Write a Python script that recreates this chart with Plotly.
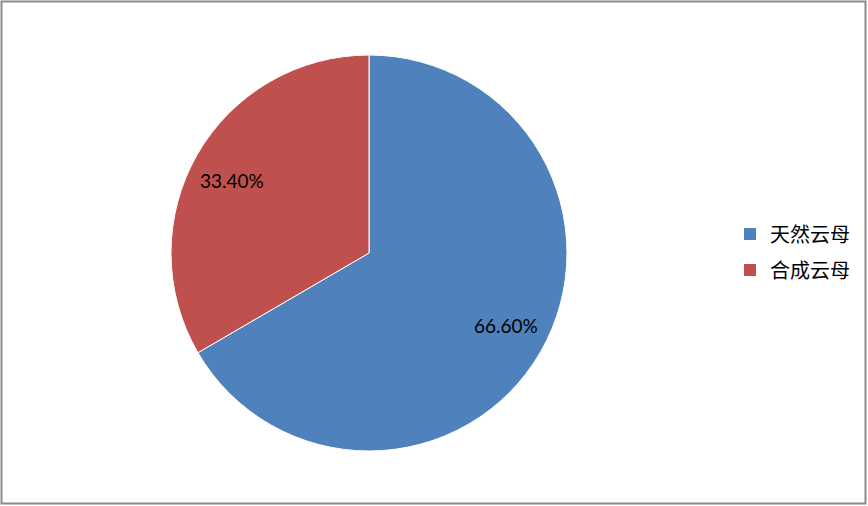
import math
import plotly.graph_objects as go

labels = ["天然云母", "合成云母"]
values = [66.6, 33.4]
text_labels = ["66.60%", "33.40%"]
colors = ["#4F81BD", "#C0504D"]

W, H = 868, 506
cx_px, cy_px, r_px = 369, 253, 198

fig = go.Figure()
fig.add_trace(go.Pie(
    labels=labels,
    values=values,
    sort=False,
    direction="clockwise",
    rotation=0,
    marker=dict(colors=colors, line=dict(color="white", width=1)),
    textinfo="none",
    hoverinfo="label+percent",
    showlegend=False,
    domain=dict(x=[(cx_px - r_px) / W, (cx_px + r_px) / W],
                y=[1 - (cy_px + r_px) / H, 1 - (cy_px - r_px) / H]),
))

# legend entries matching the slices
for lab, col in zip(labels, colors):
    fig.add_trace(go.Scatter(
        x=[None], y=[None], mode="markers", name=lab, legendgroup=lab,
        marker=dict(symbol="square", size=12, color=col),
        showlegend=True, hoverinfo="skip",
    ))

# data labels placed along each slice's mid angle
total = sum(values)
cum = 0.0
for v, t in zip(values, text_labels):
    mid = (cum + v / 2) / total * 2 * math.pi  # clockwise from top
    cum += v
    dx = 0.8 * r_px * math.sin(mid)
    dy = 0.74 * r_px * math.cos(mid)
    fig.add_annotation(
        x=(cx_px + dx) / W, y=(H - cy_px + dy) / H,
        xref="paper", yref="paper", text=t, showarrow=False,
        font=dict(family="Lato, Carlito, Arial", size=19, color="black"),
        xanchor="center", yanchor="middle",
    )

fig.add_shape(type="rect", xref="paper", yref="paper",
              x0=1.5 / W, x1=(W - 2.5) / W, y0=2.5 / H, y1=1 - 1.5 / H,
              line=dict(color="#898989", width=2), fillcolor="rgba(0,0,0,0)")

fig.update_layout(
    width=W, height=H,
    margin=dict(l=0, r=0, t=0, b=0),
    paper_bgcolor="white",
    plot_bgcolor="white",
    xaxis=dict(visible=False),
    yaxis=dict(visible=False),
    showlegend=True,
    legend=dict(x=730 / W, y=0.502, xanchor="left", yanchor="middle",
                font=dict(family="Noto Sans CJK SC", size=20, color="black"),
                itemsizing="trace", tracegroupgap=7, itemwidth=30,
                bgcolor="rgba(0,0,0,0)"),
)

fig.write_html("out.html", config={"displayModeBar": False},
               post_script="document.body.style.margin='0';document.body.style.overflow='hidden';")
